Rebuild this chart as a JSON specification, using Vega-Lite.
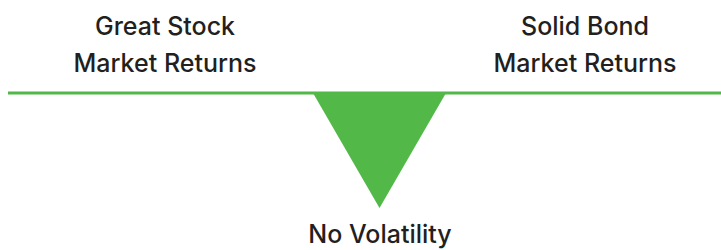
{
  "$schema": "https://vega.github.io/schema/vega-lite/v6.json",
  "width": 721,
  "height": 250,
  "autosize": {"type": "none"},
  "padding": 0,
  "background": "white",
  "config": {"view": {"stroke": null}},
  "datasets": {
    "line": [{"x": 8, "y": 93}, {"x": 721, "y": 93}],
    "tri": [{"x": 313, "y": 93, "top": 93}, {"x": 379.5, "y": 208, "top": 93}, {"x": 446, "y": 93, "top": 93}],
    "labels": [
      {"x": 165, "y": 35, "text": "Great Stock"},
      {"x": 165, "y": 72, "text": "Market Returns"},
      {"x": 585, "y": 35, "text": "Solid Bond"},
      {"x": 585, "y": 72, "text": "Market Returns"},
      {"x": 380, "y": 243, "text": "No Volatility"}
    ]
  },
  "layer": [
    {
      "data": {"name": "line"},
      "mark": {"type": "line", "color": "#52b848", "strokeWidth": 3},
      "encoding": {
        "x": {"field": "x", "type": "quantitative", "scale": {"domain": [0, 721]}, "axis": null},
        "y": {"field": "y", "type": "quantitative", "scale": {"domain": [250, 0]}, "axis": null}
      }
    },
    {
      "data": {"name": "tri"},
      "mark": {"type": "area", "color": "#52b848", "opacity": 1},
      "encoding": {
        "x": {"field": "x", "type": "quantitative", "scale": {"domain": [0, 721]}, "axis": null},
        "y": {"field": "y", "type": "quantitative", "scale": {"domain": [250, 0]}, "axis": null},
        "y2": {"field": "top"}
      }
    },
    {
      "data": {"name": "labels"},
      "mark": {"type": "text", "font": "Inter", "fontSize": 25, "fontWeight": 500, "color": "#231f20", "align": "center", "baseline": "alphabetic"},
      "encoding": {
        "x": {"field": "x", "type": "quantitative", "scale": {"domain": [0, 721]}, "axis": null},
        "y": {"field": "y", "type": "quantitative", "scale": {"domain": [250, 0]}, "axis": null},
        "text": {"field": "text"}
      }
    }
  ]
}
